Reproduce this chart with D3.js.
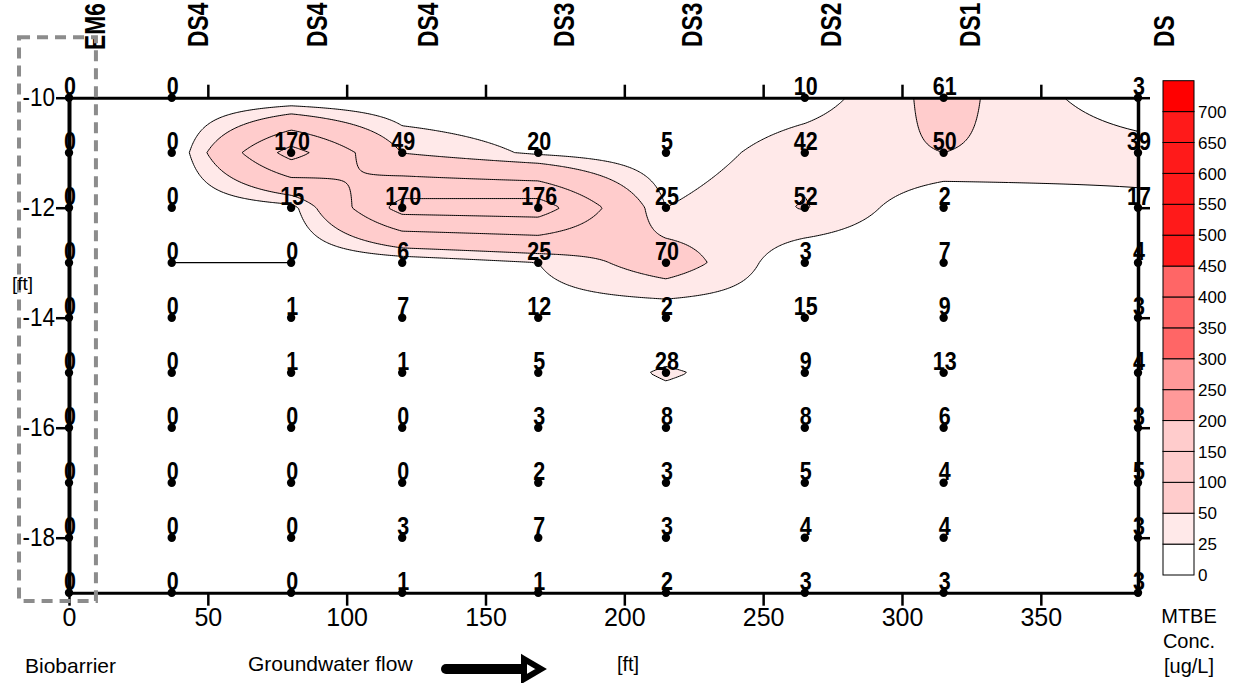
<!DOCTYPE html>
<html lang="en">
<head>
<meta charset="utf-8">
<title>MTBE plume</title>
<script src="https://cdn.jsdelivr.net/npm/d3@7"></script>
<style>
  body {margin: 0; background: #fff;}
  text {font-family: Arial, "Liberation Sans", sans-serif; fill: #000;}
  .axe path, .axe line {stroke: #000; shape-rendering: auto;}
  .axe text {font-size: 25px;}
</style>
</head>
<body>
<svg width="1235" height="683"></svg>
<script>
// wells along the transect, distance from the biobarrier [ft]
const wells = ["EM6", "DS4", "DS4", "DS4", "DS3", "DS3", "DS2", "DS1", "DS"];
const wellX = [0, 37, 80, 120, 169, 215, 265, 315, 385];
const depths = [-10, -11, -12, -13, -14, -15, -16, -17, -18, -19];

// MTBE [ug/L], one row per depth, one column per well (null = not sampled)
const mtbe = [
  [0, 0, null, null, null, null, 10, 61, 3],
  [0, 0, 170, 49, 20, 5, 42, 50, 39],
  [0, 0, 15, 170, 176, 25, 52, 2, 17],
  [0, 0, 0, 6, 25, 70, 3, 7, 4],
  [0, 0, 1, 7, 12, 2, 15, 9, 3],
  [0, 0, 1, 1, 5, 28, 9, 13, 4],
  [0, 0, 0, 0, 3, 8, 8, 6, 3],
  [0, 0, 0, 0, 2, 3, 5, 4, 5],
  [0, 0, 0, 3, 7, 3, 4, 4, 3],
  [0, 0, 0, 1, 1, 2, 3, 3, 3]
];

const levels = [0, 25, 50, 100, 150, 200, 250, 300, 350, 400, 450, 500, 550, 600, 650, 700];
const levelColors = ["#ffffff", "#ffe9e9", "#ffcccc", "#ffcccc", "#ffcccc", "#ff9999", "#ff9999",
  "#ff6666", "#ff6666", "#ff6666", "#ff1a1a", "#ff1a1a", "#ff1a1a", "#ff1a1a", "#ff1a1a", "#ff0000"];

const xTicks = [0, 50, 100, 150, 200, 250, 300, 350];
const yTicks = [-10, -12, -14, -16, -18];
const zeroEdge = [[37, -13], [80, -13]];
const barrier = {from: -18, to: 9.7, top: -8.9, bottom: -19.15};

const svg = d3.select("svg");

const x = d3.scaleLinear().domain([0, 385]).range([69, 1138]);
const y = d3.scaleLinear().domain([-19, -10]).range([592.7, 97.7]);

// --- surface: bilinear between wells / depths, unsampled cells taken as 0
function valeur(r, c) { return mtbe[r][c] == null ? 0 : mtbe[r][c]; }
function surface(xf, yf) {
  let c = Math.max(0, Math.min(wellX.length - 2, d3.bisectRight(wellX, xf) - 1));
  let r = Math.max(0, Math.min(depths.length - 2, Math.floor(depths[0] - yf)));
  let u = (xf - wellX[c]) / (wellX[c + 1] - wellX[c]);
  let v = (depths[r] - yf) / (depths[r] - depths[r + 1]);
  u = Math.max(0, Math.min(1, u)); v = Math.max(0, Math.min(1, v));
  return valeur(r, c) * (1 - u) * (1 - v) + valeur(r, c + 1) * u * (1 - v)
       + valeur(r + 1, c) * (1 - u) * v + valeur(r + 1, c + 1) * u * v;
}

const x0 = x(0), x1 = x(385), y0 = y(-10), y1 = y(-19);
const nx = Math.round((x1 - x0) / 2), ny = Math.round((y1 - y0) / 2);
const sx = (x1 - x0) / nx, sy = (y1 - y0) / ny;
const grille = new Float64Array(nx * ny);
for (let j = 0; j < ny; j++) {
  for (let i = 0; i < nx; i++) {
    grille[j * nx + i] = surface(x.invert(x0 + (i + 0.5) * sx), y.invert(y0 + (j + 0.5) * sy));
  }
}

const contours = d3.contours().size([nx, ny]).thresholds(levels.slice(1))(grille);
const chemin = d3.geoPath(d3.geoTransform({
  point: function (px, py) { this.stream.point(x0 + px * sx, y0 + py * sy); }
}));

svg.append("clipPath").attr("id", "zone")
  .append("rect").attr("x", x0).attr("y", y0).attr("width", x1 - x0).attr("height", y1 - y0);

svg.append("g").attr("clip-path", "url(#zone)")
  .selectAll("path")
  .data(contours)
  .enter()
  .append("path")
    .attr("d", chemin)
    .attr("fill", d => levelColors[levels.indexOf(d.value)])
    .attr("stroke", "#000")
    .attr("stroke-width", 1);

svg.append("path")
  .attr("d", d3.line().x(d => x(d[0])).y(d => y(d[1]))(zeroEdge))
  .attr("stroke", "#000").attr("stroke-width", 1.2).attr("fill", "none");

// --- axes
const axeBas = svg.append("g").classed("axe", true)
  .attr("transform", `translate(0,${y(-19)})`)
  .call(d3.axisBottom(x).tickValues(xTicks).tickSize(13).tickSizeOuter(0).tickPadding(3));
axeBas.select(".domain").attr("stroke-width", 3);

const axeHaut = svg.append("g").classed("axe", true)
  .attr("transform", `translate(0,${y(-10)})`)
  .call(d3.axisTop(x).tickValues(xTicks.slice(1)).tickSize(13).tickSizeOuter(0).tickFormat(""));
axeHaut.select(".domain").attr("stroke-width", 3);

const axeDroit = svg.append("g").classed("axe", true)
  .attr("transform", `translate(${x(385)},0)`)
  .call(d3.axisRight(y).tickValues(yTicks).tickSize(12).tickSizeOuter(0).tickFormat(""));
axeDroit.select(".domain").attr("stroke-width", 3.5);

const axeGauche = svg.append("g").classed("axe", true)
  .attr("transform", `translate(${x(0)},0)`)
  .call(d3.axisLeft(y).tickValues(yTicks).tickSize(13).tickSizeOuter(0).tickPadding(1)
    .tickFormat(d => String(d)));
axeGauche.select(".domain").attr("stroke-width", 4);
axeGauche.selectAll("text").attr("transform", "scale(0.9,1)").attr("x", -15.5);

svg.selectAll(".axe line").attr("stroke-width", 2.5);

// --- sampling points and values
const mesures = [];
depths.forEach((p, r) => wellX.forEach((w, c) => {
  if (mtbe[r][c] != null) mesures.push({x: w, y: p, v: mtbe[r][c]});
}));

svg.append("g").selectAll("circle")
  .data(mesures).enter()
  .append("circle")
    .attr("cx", d => x(d.x)).attr("cy", d => y(d.y)).attr("r", 4.2)
    .attr("fill", "#000");

svg.append("g").selectAll("text")
  .data(mesures).enter()
  .append("text")
    .attr("transform", d => `translate(${x(d.x) + 1},${y(d.y) - 3}) scale(0.86,1.02)`)
    .style("text-anchor", "middle")
    .style("font-size", "25px")
    .style("font-weight", "bold")
    .text(d => d.v);

// well names (rotated, top)
svg.append("g").selectAll("text")
  .data(wells).enter()
  .append("text")
    .attr("transform", (d, i) => `translate(${x(wellX[i]) + 36},${i === 0 ? 50 : 47}) rotate(-90) scale(0.76,1)`)
    .style("font-size", "30px")
    .style("font-weight", "bold")
    .text(d => d);

// biobarrier outline
svg.append("rect")
  .attr("x", x(barrier.from)).attr("y", y(barrier.top))
  .attr("width", x(barrier.to) - x(barrier.from))
  .attr("height", y(barrier.bottom) - y(barrier.top))
  .attr("fill", "none")
  .attr("stroke", "#8c8c8c")
  .attr("stroke-width", 4)
  .attr("stroke-dasharray", "11 7");

// --- legend
const legY = d3.scaleLinear().domain([0, levels.length]).range([575, 80.7]);
const legende = svg.append("g");
legende.selectAll("rect")
  .data(levels).enter()
  .append("rect")
    .attr("x", 1163).attr("width", 31)
    .attr("y", (d, i) => legY(i + 1))
    .attr("height", (d, i) => legY(i) - legY(i + 1))
    .attr("fill", (d, i) => levelColors[i])
    .attr("stroke", "#000").attr("stroke-width", 1);
legende.selectAll("text")
  .data(levels).enter()
  .append("text")
    .attr("x", 1198).attr("y", (d, i) => legY(i)).attr("dy", "0.36em")
    .style("font-size", "17px")
    .text(d => d);

["MTBE", "Conc.", "[ug/L]"].forEach((t, i) => {
  svg.append("text").attr("x", 1189).attr("y", 623 + i * 25)
    .style("text-anchor", "middle").style("font-size", "20px").text(t);
});

// --- annotations
svg.append("text").attr("x", 12).attr("y", 290).style("font-size", "19px").text("[ft]");
svg.append("text").attr("x", 25).attr("y", 673).style("font-size", "21px").text("Biobarrier");
svg.append("text").attr("x", 248).attr("y", 671).style("font-size", "21px").text("Groundwater flow");
svg.append("text").attr("x", 628).attr("y", 671).style("text-anchor", "middle")
  .style("font-size", "20px").text("[ft]");

svg.append("line")
  .attr("x1", 446).attr("y1", 669).attr("x2", 522).attr("y2", 669)
  .attr("stroke", "#000").attr("stroke-width", 10).attr("stroke-linecap", "round");
svg.append("path")
  .attr("d", "M524,659 L541,669 L524,679 Z")
  .attr("fill", "#fff").attr("stroke", "#000").attr("stroke-width", 6);
</script>
</body>
</html>
